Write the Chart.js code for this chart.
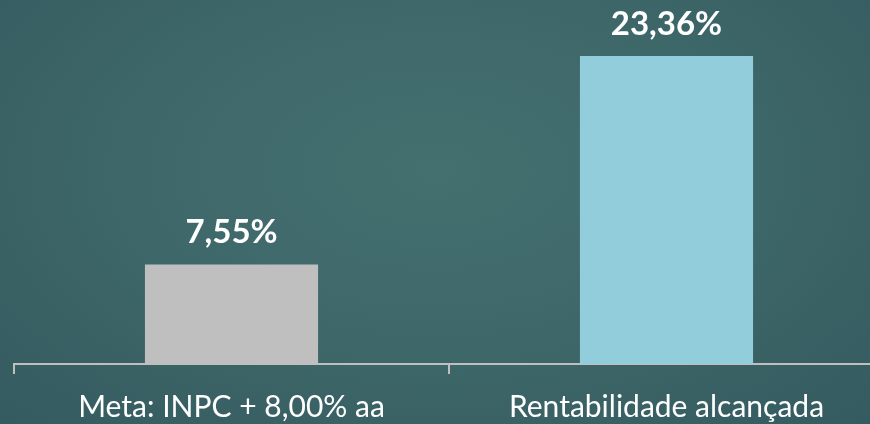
<!DOCTYPE html>
<html>
<head>
<meta charset="utf-8">
<script src="https://cdn.jsdelivr.net/npm/chart.js@4"></script>
<style>
  html, body { margin: 0; padding: 0; }
  body {
    width: 870px; height: 424px; overflow: hidden;
    background: radial-gradient(ellipse at 50% 40%, #44706f 0%, #3e676a 50%, #345b5f 100%);
  }
  #wrap { width: 870px; height: 424px; overflow: hidden; position: relative; }
  #box { width: 900px; height: 424px; position: absolute; left: 0; top: 0; }
</style>
</head>
<body>
<div id="wrap"><div id="box"><canvas id="chart"></canvas></div></div>
<script>
const categories = ['Meta: INPC + 8,00% aa', 'Rentabilidade alcançada'];
const values = [7.55, 23.36];
const valueLabels = ['7,55%', '23,36%'];
const barColors = ['#bfbfbf', '#92cddc'];

const font = "Lato, 'Open Sans', sans-serif";

// draws the bold % figure above each bar
const topLabels = {
  id: 'topLabels',
  afterDatasetsDraw(chart) {
    const ctx = chart.ctx;
    const meta = chart.getDatasetMeta(0);
    ctx.save();
    ctx.fillStyle = '#ffffff';
    ctx.font = 'bold 33px ' + font;
    ctx.textAlign = 'center';
    ctx.textBaseline = 'middle';
    meta.data.forEach((bar, i) => {
      ctx.fillText(valueLabels[i], bar.x, bar.y - 32);
    });
    ctx.restore();
  }
};

new Chart(document.getElementById('chart'), {
  type: 'bar',
  data: {
    labels: categories,
    datasets: [{
      data: values,
      backgroundColor: barColors,
      borderWidth: 0,
      categoryPercentage: 1.0,
      barPercentage: 0.398
    }]
  },
  options: {
    responsive: true,
    maintainAspectRatio: false,
    animation: false,
    layout: { padding: { left: 14, right: 16, top: 0, bottom: 0 } },
    plugins: { legend: { display: false }, tooltip: { enabled: false } },
    scales: {
      y: { display: false, min: 0, max: 27.6 },
      x: {
        grid: { drawOnChartArea: false, drawTicks: true, tickLength: 10, color: '#bfbfbf', lineWidth: 2, offset: true },
        border: { color: '#bfbfbf', width: 2 },
        ticks: { color: '#ffffff', font: { family: font, size: 30 }, padding: 15 },
        afterFit(scale) { scale.height = 60; }
      }
    }
  },
  plugins: [topLabels]
});
</script>
</body>
</html>
